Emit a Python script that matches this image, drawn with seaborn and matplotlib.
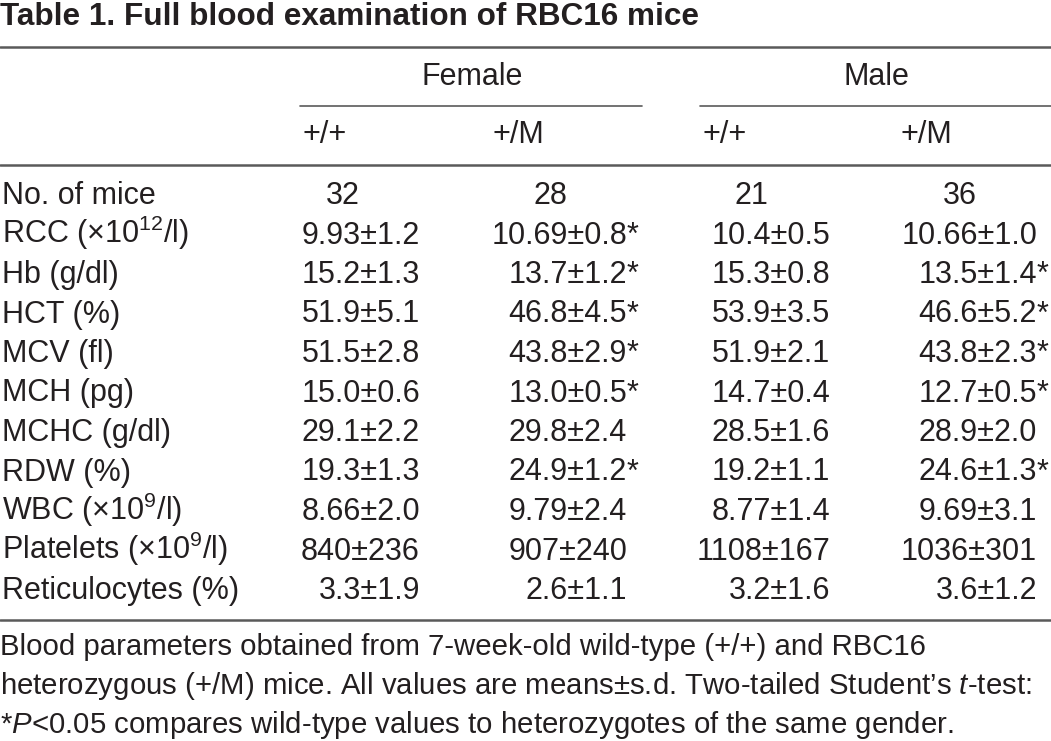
import matplotlib
matplotlib.use('Agg')
import matplotlib.pyplot as plt
import seaborn as sns

# table content
title = 'Table 1. Full blood examination of RBC16 mice'
groups = ['Female', 'Male']
genotypes = ['+/+', '+/M', '+/+', '+/M']
params = ['No. of mice', 'RCC (×10$^{12}$/l)', 'Hb (g/dl)', 'HCT (%)', 'MCV (fl)',
          'MCH (pg)', 'MCHC (g/dl)', 'RDW (%)', 'WBC (×10$^{9}$/l)',
          'Platelets (×10$^{9}$/l)', 'Reticulocytes (%)']
n_mice = [32, 28, 21, 36]
female_wt = ['9.93±1.2', '15.2±1.3', '51.9±5.1', '51.5±2.8', '15.0±0.6', '29.1±2.2',
             '19.3±1.3', '8.66±2.0', '840±236', '3.3±1.9']
female_het = ['10.69±0.8*', '13.7±1.2*', '46.8±4.5*', '43.8±2.9*', '13.0±0.5*', '29.8±2.4',
              '24.9±1.2*', '9.79±2.4', '907±240', '2.6±1.1']
male_wt = ['10.4±0.5', '15.3±0.8', '53.9±3.5', '51.9±2.1', '14.7±0.4', '28.5±1.6',
           '19.2±1.1', '8.77±1.4', '1108±167', '3.2±1.6']
male_het = ['10.66±1.0', '13.5±1.4*', '46.6±5.2*', '43.8±2.3*', '12.7±0.5*', '28.9±2.0',
            '24.6±1.3*', '9.69±3.1', '1036±301', '3.6±1.2']
footnote = ['Blood parameters obtained from 7-week-old wild-type (+/+) and RBC16',
            'heterozygous (+/M) mice. All values are means±s.d. Two-tailed Student’s $t$-test:',
            '*$P$<0.05 compares wild-type values to heterozygotes of the same gender.']

sns.set_theme(style='white')
plt.rcParams['font.family'] = ['Liberation Sans', 'DejaVu Sans']
plt.rcParams['mathtext.fontset'] = 'custom'
plt.rcParams['mathtext.rm'] = 'Liberation Sans'
plt.rcParams['mathtext.it'] = 'Liberation Sans:italic'

ink = '#231f20'
rule = '#5a5a5a'

fig = plt.figure(figsize=(10.51, 7.41), dpi=100)
ax = fig.add_axes([0, 0, 1, 1])
ax.set_xlim(0, 1051)
ax.set_ylim(741, 0)
ax.axis('off')

body = 22
ax.text(0, 25, title, fontsize=22.7, fontweight='bold', color=ink, va='baseline')
ax.axhline(47, color=rule, lw=1.8)

# group headers with underlines
grp_spans = [(300, 642), (700, 1051)]
grp_x = [472, 876]
for name, x, (x0, x1) in zip(groups, grp_x, grp_spans):
    ax.text(x, 85, name, fontsize=body, color=ink, ha='center', va='baseline')
    ax.plot([x0, x1], [106, 106], color=rule, lw=1.2)

geno_x = [302, 492, 703, 900]
for x, g in zip(geno_x, genotypes):
    ax.text(x, 143, g, fontsize=body, color=ink, va='baseline')
ax.axhline(165, color=rule, lw=1.8)

# body rows: values right aligned, the asterisk hangs past the column edge
right_x = [420, 627, 830, 1037]
count_x = [343, 550, 751, 960]
y0, dy = 204, 39.5
for i, p in enumerate(params):
    ax.text(2, y0 + i * dy, p, fontsize=body, color=ink, va='baseline')

for x, n in zip(count_x, n_mice):
    ax.text(x, y0, str(n), fontsize=body, color=ink, ha='center', va='baseline')

for x, col in zip(right_x, [female_wt, female_het, male_wt, male_het]):
    for i, v in enumerate(col):
        y = y0 + (i + 1) * dy
        ax.text(x, y, v.rstrip('*'), fontsize=body, color=ink, ha='right', va='baseline')
        if v.endswith('*'):
            ax.text(x, y, '*', fontsize=body, color=ink, ha='left', va='baseline')

ax.axhline(620, color=rule, lw=1.8)

for i, line in enumerate(footnote):
    ax.text(0, 655 + i * 39, line, fontsize=21.2, color=ink, va='baseline')

fig.savefig('out.png', dpi=100)
